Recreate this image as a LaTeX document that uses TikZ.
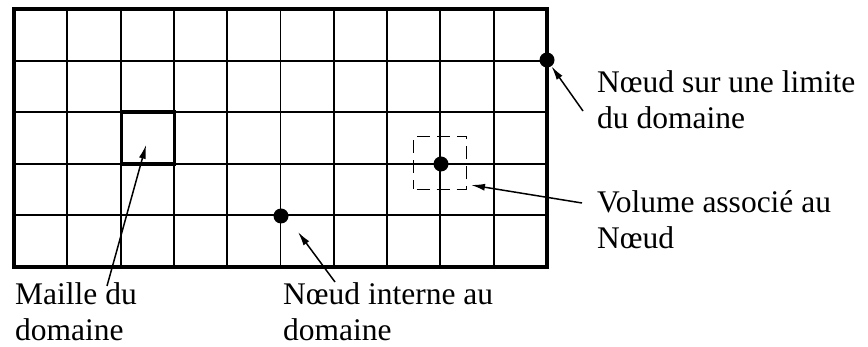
\documentclass[tikz,border=0pt]{standalone}
\usepackage{fontspec}
\setmainfont{Liberation Serif}
\usetikzlibrary{arrows.meta,positioning,calc}
\tikzstyle{grille} = [line width=1.9pt]
\tikzstyle{bord} = [line width=4.5pt]
\tikzstyle{maille} = [rectangle, draw, line width=3.5pt, minimum width=53.3pt, minimum height=51.6pt, inner sep=0pt]
\tikzstyle{noeud} = [circle, fill=black, inner sep=0pt, minimum size=15pt]
\tikzstyle{volume} = [rectangle, draw, line width=1.6pt, dash pattern=on 13pt off 7pt, dash phase=-3pt, minimum size=53pt, inner sep=0pt]
\tikzstyle{lbl} = [align=left, anchor=north west, inner sep=0pt, font=\fontsize{31.5}{36}\selectfont]
\tikzstyle{fleche} = [line width=1.5pt, -{Latex[length=14pt,width=7pt]}]

\begin{document}
\begin{tikzpicture}[x=1pt, y=-1pt]
    \useasboundingbox (0,0) rectangle (868,347);
    % grille du domaine
    \foreach \i in {1,...,9} \draw[grille] (14+53.3*\i,9) -- (14+53.3*\i,267);
    \foreach \j in {1,...,4} \draw[grille] (14,9+51.6*\j) -- (547,9+51.6*\j);
    \draw[bord] (14,9) rectangle (547,267);
    \node[maille] (cell) at (148,138) {};
    \node[volume] (vol) at (440,163) {};
    % noeuds
    \node[noeud] (nb) at (547,60) {};
    \node[noeud] (nv) at (441,164) {};
    \node[noeud] (ni) at (281,216) {};
    % textes
    \node[lbl] (tb) at (597,70) {Nœud sur une limite\\du domaine};
    \node[lbl] (tv) at (597,190) {Volume associé au\\Nœud};
    \node[lbl] (ti) at (283,282) {Nœud interne au\\domaine};
    \node[lbl] (tm) at (15,282) {Maille du\\domaine};
    \coordinate (ab) at (583,111);
    \coordinate (av) at (582,203);
    \coordinate (hv) at (471,185);
    \coordinate (ai) at (335,282);
    \coordinate (hi) at (298,232);
    \coordinate (am) at (107,286);
    \draw[fleche] (ab) -- (nb);
    \draw[fleche] (av) -- (hv);
    \draw[fleche] (ai) -- (hi);
    \draw[fleche, shorten >=7pt] (am) -- (cell.center);
\end{tikzpicture}
\end{document}
